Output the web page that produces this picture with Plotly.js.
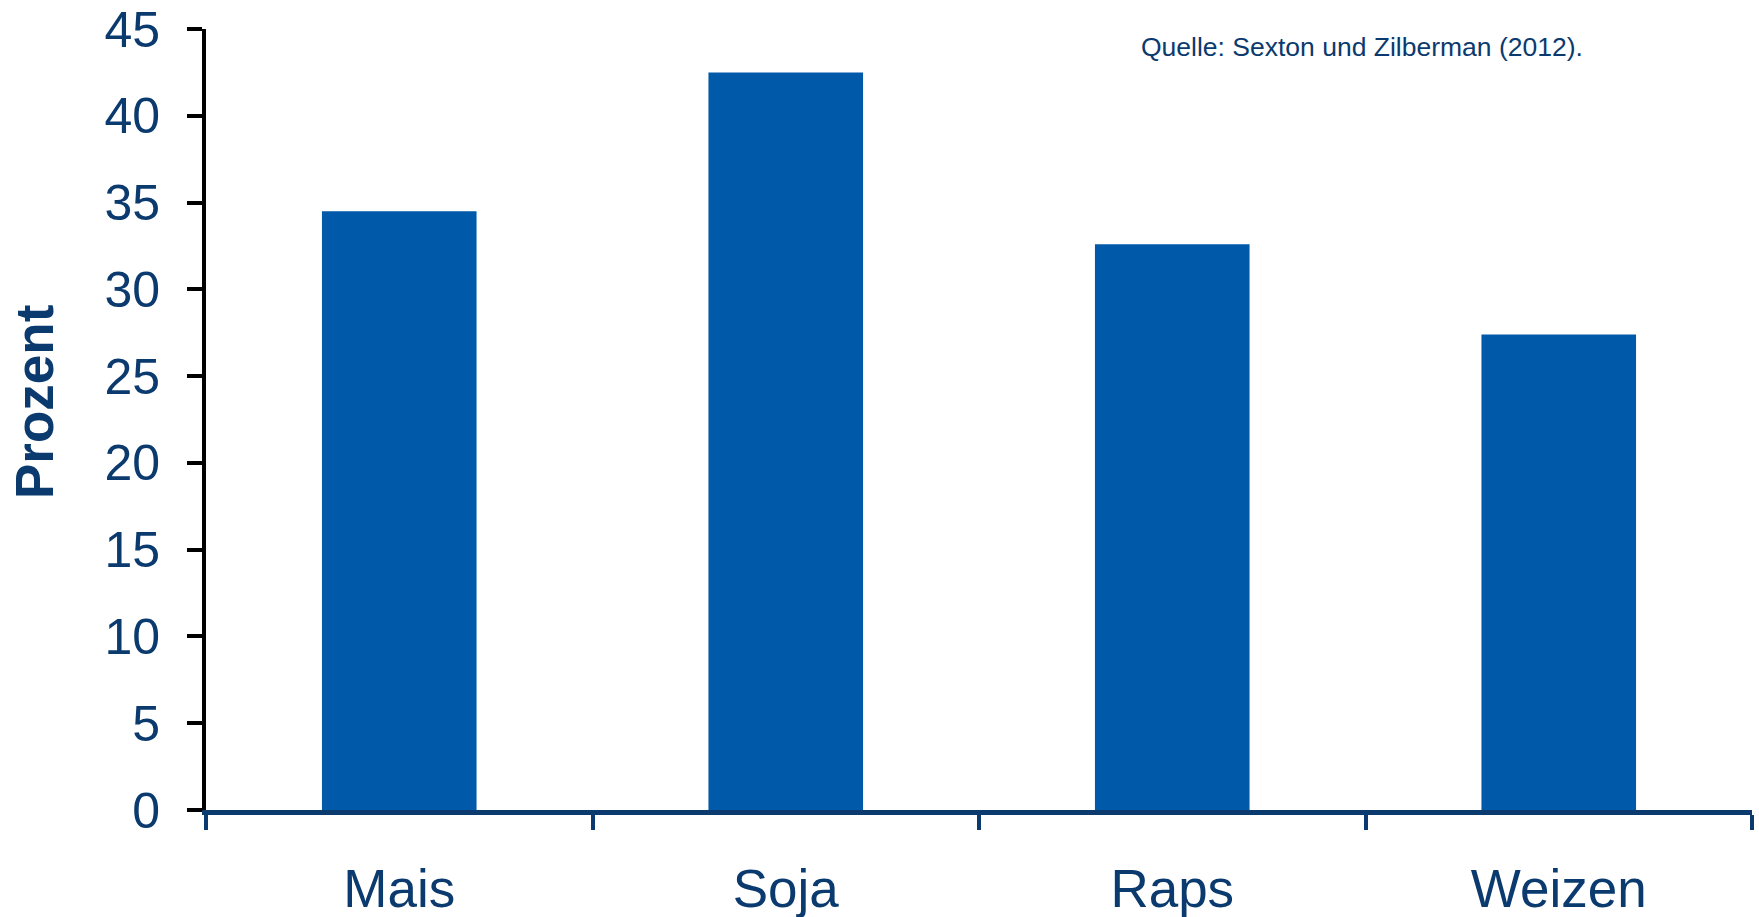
<!DOCTYPE html>
<html>
<head>
<meta charset="utf-8">
<script src="https://cdn.plot.ly/plotly-3.0.1.min.js"></script>
<style>html,body{margin:0;padding:0;background:#fff;}#chart{width:1759px;height:917px;}</style>
</head>
<body>
<div id="chart"></div>
<script>
const categories = ["Mais", "Soja", "Raps", "Weizen"];
const values = [34.5, 42.5, 32.6, 27.4];
const yTicks = [0, 5, 10, 15, 20, 25, 30, 35, 40, 45];
const yAxisTitle = "Prozent";
const sourceNote = "Quelle: Sexton und Zilberman (2012).";

const navy = "#0B3A6E";
const barColor = "#0059A9";
const font = "Liberation Sans, Arial, sans-serif";

const data = [{
  type: "bar",
  x: categories,
  y: values,
  marker: {color: barColor},
  width: 0.4,
  hoverinfo: "x+y"
}];

const plotL = 206, plotT = 29, plotW = 1546, plotH = 781;

const layout = {
  width: 1759,
  height: 917,
  margin: {l: plotL, r: 7, t: plotT, b: 107},
  paper_bgcolor: "#fff",
  plot_bgcolor: "#fff",
  showlegend: false,
  font: {family: font, color: navy},
  xaxis: {
    type: "category",
    range: [-0.5, 3.5],
    showline: true,
    linecolor: navy,
    linewidth: 5,
    ticks: "outside",
    tickson: "boundaries",
    ticklen: 15,
    tickwidth: 4,
    tickcolor: navy,
    tickfont: {size: 53, color: navy, family: font},
    ticklabelstandoff: 28,
    showgrid: false,
    zeroline: false,
    fixedrange: true
  },
  yaxis: {
    range: [0, 45],
    tickvals: yTicks,
    ticktext: yTicks.map(String),
    showline: true,
    linecolor: "#000",
    linewidth: 4,
    ticks: "outside",
    ticklen: 15,
    tickwidth: 4,
    tickcolor: "#000",
    tickfont: {size: 50, color: navy, family: font},
    ticklabelstandoff: 17,
    showgrid: false,
    zeroline: false,
    fixedrange: true
  },
  annotations: [{
    text: "<b>" + yAxisTitle + "</b>",
    xref: "paper", yref: "paper",
    x: (34 - plotL) / plotW, y: 1 - (402 - plotT) / plotH,
    xanchor: "center", yanchor: "middle",
    textangle: -90,
    showarrow: false,
    font: {size: 53, color: navy, family: font}
  }, {
    text: sourceNote,
    xref: "paper", yref: "paper",
    x: (1139 - plotL) / plotW, y: 1 + (plotT - 47) / plotH,
    xanchor: "left", yanchor: "middle",
    showarrow: false,
    font: {size: 26.5, color: navy, family: font}
  }]
};

Plotly.newPlot("chart", data, layout, {displayModeBar: false, staticPlot: true});
</script>
</body>
</html>
